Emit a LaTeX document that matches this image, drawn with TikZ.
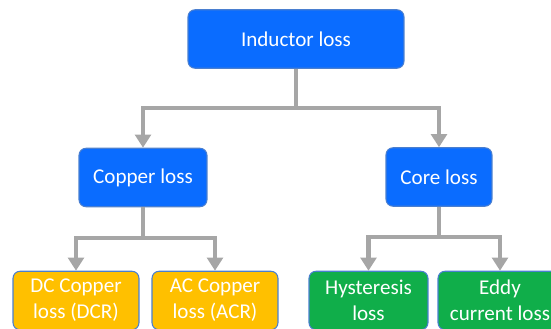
\documentclass[tikz,border=0pt]{standalone}
\usepackage{fontspec}
\setmainfont{Carlito}
\usetikzlibrary{arrows.meta,positioning}
\definecolor{boxblue}{HTML}{0A6CFF}
\definecolor{boxgold}{HTML}{FFC000}
\definecolor{boxgreen}{HTML}{10AE4A}
\definecolor{rimblue}{HTML}{4A7FD0}
\definecolor{linkgray}{HTML}{A6A6A6}

\begin{document}
\begin{tikzpicture}[x=0.02cm, y=-0.02cm,
  box/.style={draw=rimblue, line width=0.6pt, rounded corners=4pt, minimum height=1.17cm,
    align=center, text=white, font=\fontsize{12}{14.7}\selectfont, inner sep=0pt},
  lvlA/.style={box, fill=boxblue},
  lvlB/.style={box, fill=boxgold},
  lvlC/.style={box, fill=boxgreen},
  link/.style={draw=linkgray, line width=2.8pt, -{Triangle[width=9pt,length=7.5pt]}}
]
\useasboundingbox (0,0) rectangle (551,328);
\node[lvlA, minimum width=4.32cm] (ind) at (296,39) {Inductor loss};
\node[lvlA, minimum width=2.56cm] (cu) at (143,177.5) {Copper loss};
\node[lvlA, minimum width=2.12cm] (core) at (439,177) {Core loss};
\node[lvlB, minimum width=2.52cm] (dcr) at (76,300.5) {DC Copper\\loss (DCR)};
\node[lvlB, minimum width=2.52cm] (acr) at (215,300.5) {AC Copper\\loss (ACR)};
\node[lvlC, minimum width=2.38cm] (hys) at (368.5,300.5) {Hysteresis\\loss};
\node[lvlC, minimum width=2.48cm] (eddy) at (500,300.5) {Eddy\\current loss};

\coordinate (j0) at (296,108);
\coordinate (j1) at (143,238);
\coordinate (j2) at (439,237);

\draw[link, -] (ind) -- (j0);
\draw[link] (j0) -| (cu); \draw[link] (j0) -| (core);
\draw[link, -] (cu) -- (j1);
\draw[link] (j1) -| (dcr); \draw[link] (j1) -| (acr);
\draw[link, -] (core) -- (j2);
\draw[link] (j2) -| (hys); \draw[link] (j2) -| (eddy);
\end{tikzpicture}
\end{document}
